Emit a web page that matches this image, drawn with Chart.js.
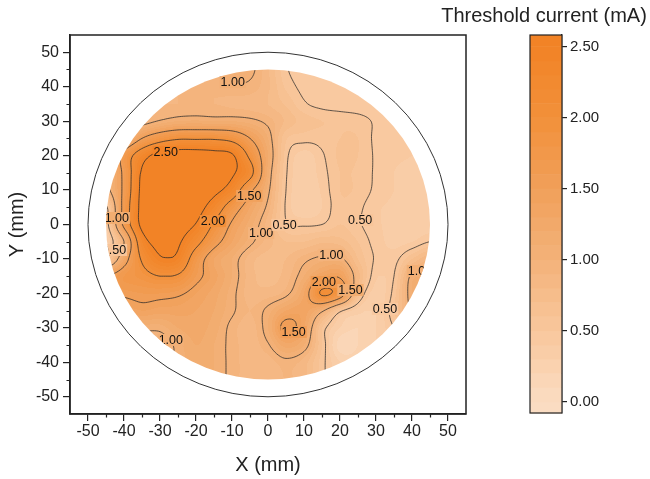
<!DOCTYPE html>
<html>
<head>
<meta charset="utf-8">
<script src="https://cdn.jsdelivr.net/npm/chart.js@4.4.0/dist/chart.umd.min.js"></script>
<style>
  html, body { margin: 0; padding: 0; background: #fff; }
  #wrap { position: relative; width: 650px; height: 479px; overflow: hidden; }
  #map { position: absolute; left: 0; top: 0; }
  #bar { position: absolute; left: 430px; top: 0; }
</style>
</head>
<body>
<div id="wrap">
  <canvas id="map" width="650" height="479"></canvas>
  <canvas id="bar" width="220" height="479"></canvas>
</div>
<script>
// Measurement grid (mm): columns along X, rows along Y (top row first)
const gridX = [-45, -40, -35, -30, -25, -20, -15, -10, -5, 0, 5, 10, 15, 20, 25, 30, 35, 40, 45];
const gridY = [45, 40, 35, 30, 25, 20, 15, 10, 5, 0, -5, -10, -15, -20, -25, -30, -35, -40, -45];

// Threshold current (mA) at each grid node, one row per gridY value
const thresholdCurrent = [
  [0.88,0.88,0.88,0.88,0.88,0.92,0.98,1.10,1.05,0.82,0.52,0.45,0.42,0.40,0.40,0.40,0.40,0.40,0.40],
  [0.86,0.86,0.87,0.88,0.90,0.92,0.95,0.97,0.96,0.82,0.58,0.46,0.43,0.42,0.40,0.40,0.40,0.40,0.40],
  [0.85,0.86,0.88,0.90,0.90,0.90,0.90,0.88,0.86,0.80,0.68,0.52,0.46,0.44,0.43,0.42,0.40,0.40,0.40],
  [0.80,0.85,0.90,1.02,1.10,1.12,1.10,1.10,1.05,0.95,0.78,0.65,0.60,0.58,0.55,0.48,0.42,0.40,0.40],
  [0.80,1.00,1.50,1.80,1.95,1.95,1.95,1.85,1.50,1.10,0.62,0.55,0.55,0.60,0.60,0.47,0.42,0.40,0.40],
  [0.80,1.65,2.30,2.65,2.70,2.70,2.65,2.55,1.90,1.20,0.55,0.35,0.48,0.62,0.60,0.48,0.42,0.40,0.40],
  [0.95,1.60,2.55,2.70,2.70,2.70,2.70,2.55,2.15,1.15,0.52,0.33,0.45,0.60,0.58,0.48,0.40,0.38,0.38],
  [0.90,1.60,2.60,2.70,2.70,2.70,2.60,2.30,1.60,1.05,0.50,0.30,0.42,0.60,0.58,0.47,0.40,0.37,0.37],
  [0.45,1.65,2.62,2.70,2.70,2.65,2.30,1.75,1.30,0.95,0.48,0.30,0.40,0.58,0.53,0.42,0.38,0.35,0.35],
  [0.40,1.60,2.60,2.70,2.65,2.48,1.95,1.45,1.15,0.85,0.52,0.48,0.50,0.60,0.52,0.42,0.37,0.35,0.35],
  [0.30,1.00,2.30,2.60,2.55,2.15,1.65,1.30,1.05,0.85,0.70,0.70,0.78,0.75,0.60,0.45,0.37,0.40,0.50],
  [0.50,1.30,2.05,2.45,2.40,1.75,1.30,1.10,0.85,0.75,0.80,0.95,1.05,1.05,0.70,0.48,0.45,0.70,0.90],
  [1.50,1.70,1.85,2.00,1.95,1.60,1.35,1.10,0.85,0.75,0.85,1.10,1.40,1.45,0.85,0.42,0.50,1.05,1.10],
  [1.50,1.55,1.60,1.60,1.55,1.40,1.25,1.05,0.85,0.85,0.95,1.30,2.05,1.75,0.70,0.35,0.55,1.10,1.10],
  [1.20,1.30,1.40,1.35,1.35,1.30,1.20,1.03,0.90,1.05,1.30,1.35,1.05,0.55,0.35,0.30,0.60,1.00,1.00],
  [1.00,1.05,1.05,1.05,1.20,1.25,1.15,0.95,0.85,1.10,1.60,1.30,0.60,0.30,0.20,0.30,0.50,0.70,0.70],
  [0.95,0.95,0.90,0.88,1.05,1.20,1.10,0.95,0.85,0.98,1.25,1.10,0.60,0.15,0.20,0.30,0.40,0.40,0.40],
  [0.95,0.95,0.90,0.90,1.05,1.15,1.10,0.95,0.85,0.85,0.95,0.85,0.55,0.30,0.25,0.30,0.40,0.40,0.40],
  [0.95,0.95,0.90,0.90,1.05,1.15,1.10,0.95,0.85,0.85,0.90,0.85,0.55,0.30,0.25,0.30,0.40,0.40,0.40]
];

// Contour line levels (mA)
const contourLevels = [0.5, 1.0, 1.5, 2.0, 2.5];

// Where each contour value is written (mm)
const contourLabels = [
  { x: -9.8,  y: 41.3,  level: 1.0 },
  { x: -28.4, y: 21.0,  level: 2.5 },
  { x: -5.2,  y: 8.3,   level: 1.5 },
  { x: -15.3, y: 1.0,   level: 2.0 },
  { x: -1.9,  y: -2.5,  level: 1.0 },
  { x: 4.6,   y: -0.1,  level: 0.5 },
  { x: 25.6,  y: 1.3,   level: 0.5 },
  { x: -42.0, y: 1.9,   level: 1.0 },
  { x: -42.8, y: -7.4,  level: 0.5 },
  { x: 17.6,  y: -8.8,  level: 1.0 },
  { x: 15.5,  y: -16.7, level: 2.0 },
  { x: 22.9,  y: -19.0, level: 1.5 },
  { x: 7.1,   y: -31.2, level: 1.5 },
  { x: 32.5,  y: -24.5, level: 0.5 },
  { x: 42.2,  y: -13.5, level: 1.0 },
  { x: -27.0, y: -33.5, level: 1.0 }
];

// Axis ticks (mm)
const xTicks = [-50, -40, -30, -20, -10, 0, 10, 20, 30, 40, 50];
const yTicks = [-50, -40, -30, -20, -10, 0, 10, 20, 30, 40, 50];
const minorTicks = [-45, -35, -25, -15, -5, 5, 15, 25, 35, 45];

// Colour scale
const colorBarTitle = 'Threshold current (mA)';
const colorBarTicks = [0, 0.5, 1.0, 1.5, 2.0, 2.5];
const bandEdges = [-0.1, 0, 0.1, 0.2, 0.3, 0.4, 0.5, 0.6, 0.7, 0.8, 0.9, 1.0, 1.1, 1.2, 1.3,
                   1.4, 1.5, 1.6, 1.7, 1.8, 1.9, 2.0, 2.1, 2.2, 2.3, 2.4, 2.5, 2.6];
const colorStopValues = [0, 0.5, 1.0, 1.5, 2.0, 2.5];
const colorStopRGB = [[250, 220, 194], [249, 199, 156], [243, 178, 121], [241, 160, 90], [242, 144, 58], [242, 131, 38]];

const sampleRadius = 45;   // measured disk (mm)
const outlineRadius = 50;  // outer outline (mm)

const INK = '#222';
const FONT = "'Liberation Sans', Arial, Helvetica, sans-serif";
Chart.defaults.font.family = FONT;
Chart.defaults.color = INK;

// ---------- field helpers ----------
function catmull(p0, p1, p2, p3, t) {
  return p1 + 0.5 * t * (p2 - p0 + t * (2 * p0 - 5 * p1 + 4 * p2 - p3 + t * (3 * (p1 - p2) + p3 - p0)));
}
function nodeValue(i, j) {
  const r = Math.max(0, Math.min(gridY.length - 1, j));
  const c = Math.max(0, Math.min(gridX.length - 1, i));
  return thresholdCurrent[r][c];
}
function fieldAt(x, y) {
  const gx = (x - gridX[0]) / (gridX[1] - gridX[0]);
  const gy = (y - gridY[0]) / (gridY[1] - gridY[0]);
  const i = Math.max(0, Math.min(gridX.length - 2, Math.floor(gx)));
  const j = Math.max(0, Math.min(gridY.length - 2, Math.floor(gy)));
  const t = Math.max(0, Math.min(1, gx - i));
  const u = Math.max(0, Math.min(1, gy - j));
  const rows = [];
  for (let b = j - 1; b <= j + 2; b++) {
    rows.push(catmull(nodeValue(i - 1, b), nodeValue(i, b), nodeValue(i + 1, b), nodeValue(i + 2, b), t));
  }
  const v = catmull(rows[0], rows[1], rows[2], rows[3], u);
  const a = nodeValue(i, j), b2 = nodeValue(i + 1, j), c = nodeValue(i, j + 1), d = nodeValue(i + 1, j + 1);
  return Math.max(Math.min(a, b2, c, d), Math.min(Math.max(a, b2, c, d), v));
}
function rampColor(v) {
  const n = colorStopValues.length;
  if (v <= colorStopValues[0]) return colorStopRGB[0];
  if (v >= colorStopValues[n - 1]) return colorStopRGB[n - 1];
  for (let k = 0; k < n - 1; k++) {
    if (v <= colorStopValues[k + 1]) {
      const f = (v - colorStopValues[k]) / (colorStopValues[k + 1] - colorStopValues[k]);
      return colorStopRGB[k].map((c, q) => Math.round(c + f * (colorStopRGB[k + 1][q] - c)));
    }
  }
}
function bandIndex(v) {
  for (let k = 0; k < bandEdges.length - 1; k++) if (v < bandEdges[k + 1]) return k;
  return bandEdges.length - 2;
}
function bandRGB(k) {
  return rampColor((bandEdges[k] + bandEdges[k + 1]) / 2);
}
const rgbCss = c => `rgb(${c[0]},${c[1]},${c[2]})`;

// ---------- filled contour map ----------
const contourMapPlugin = {
  id: 'contourMap',
  beforeDatasetsDraw(chart) {
    const { ctx, chartArea: area, scales: { x: sx, y: sy } } = chart;
    const w = Math.round(area.right - area.left), h = Math.round(area.bottom - area.top);
    const off = document.createElement('canvas');
    off.width = w; off.height = h;
    const octx = off.getContext('2d');
    const img = octx.createImageData(w, h);
    const lim = (sampleRadius + 1) * (sampleRadius + 1);
    for (let py = 0; py < h; py++) {
      const vy = sy.getValueForPixel(area.top + py + 0.5);
      for (let px = 0; px < w; px++) {
        const vx = sx.getValueForPixel(area.left + px + 0.5);
        if (vx * vx + vy * vy > lim) continue;
        const c = bandRGB(bandIndex(fieldAt(vx, vy)));
        const o = (py * w + px) * 4;
        img.data[o] = c[0]; img.data[o + 1] = c[1]; img.data[o + 2] = c[2]; img.data[o + 3] = 255;
      }
    }
    octx.putImageData(img, 0, 0);

    const cx = sx.getPixelForValue(0), cy = sy.getPixelForValue(0);
    const rx = sx.getPixelForValue(sampleRadius) - cx;
    const ry = cy - sy.getPixelForValue(sampleRadius);

    ctx.save();
    ctx.beginPath();
    ctx.ellipse(cx, cy, rx, ry, 0, 0, Math.PI * 2);
    ctx.clip();
    ctx.drawImage(off, area.left, area.top);

    // contour lines by marching squares
    const step = 0.5, lo = -sampleRadius - 1;
    const N = Math.round((2 * sampleRadius + 2) / step) + 1;
    const F = new Float32Array(N * N);
    for (let r = 0; r < N; r++) for (let q = 0; q < N; q++) F[r * N + q] = fieldAt(lo + q * step, lo + r * step);
    const PX = v => sx.getPixelForValue(v), PY = v => sy.getPixelForValue(v);
    ctx.strokeStyle = '#2a2a2a';
    ctx.lineWidth = 0.75;
    ctx.lineJoin = 'round';
    for (const L of contourLevels) {
      ctx.beginPath();
      for (let r = 0; r < N - 1; r++) {
        const y0 = lo + r * step, y1 = y0 + step;
        for (let q = 0; q < N - 1; q++) {
          const x0 = lo + q * step, x1 = x0 + step;
          const v0 = F[r * N + q], v1 = F[r * N + q + 1], v2 = F[(r + 1) * N + q + 1], v3 = F[(r + 1) * N + q];
          const idx = (v0 > L ? 1 : 0) | (v1 > L ? 2 : 0) | (v2 > L ? 4 : 0) | (v3 > L ? 8 : 0);
          if (idx === 0 || idx === 15) continue;
          const E = [
            () => [x0 + (L - v0) / (v1 - v0) * step, y0],
            () => [x1, y0 + (L - v1) / (v2 - v1) * step],
            () => [x0 + (L - v3) / (v2 - v3) * step, y1],
            () => [x0, y0 + (L - v0) / (v3 - v0) * step]
          ];
          let segs;
          const centre = (v0 + v1 + v2 + v3) / 4 > L;
          switch (idx) {
            case 1: case 14: segs = [[3, 0]]; break;
            case 2: case 13: segs = [[0, 1]]; break;
            case 3: case 12: segs = [[3, 1]]; break;
            case 4: case 11: segs = [[1, 2]]; break;
            case 6: case 9: segs = [[0, 2]]; break;
            case 7: case 8: segs = [[3, 2]]; break;
            case 5: segs = centre ? [[0, 1], [2, 3]] : [[3, 0], [1, 2]]; break;
            case 10: segs = centre ? [[3, 0], [1, 2]] : [[0, 1], [2, 3]]; break;
          }
          for (const [a, b] of segs) {
            const p = E[a](), s = E[b]();
            ctx.moveTo(PX(p[0]), PY(p[1]));
            ctx.lineTo(PX(s[0]), PY(s[1]));
          }
        }
      }
      ctx.stroke();
    }

    // contour value labels
    ctx.font = `12.5px ${FONT}`;
    ctx.textAlign = 'center';
    ctx.textBaseline = 'middle';
    for (const lab of contourLabels) {
      const text = lab.level.toFixed(2);
      const px = PX(lab.x), py = PY(lab.y);
      const tw = ctx.measureText(text).width;
      ctx.fillStyle = rgbCss(bandRGB(bandIndex(fieldAt(lab.x, lab.y))));
      ctx.fillRect(px - tw / 2 - 1, py - 6, tw + 2, 12);
      ctx.fillStyle = '#111';
      ctx.fillText(text, px, py + 0.5);
    }
    ctx.restore();

    // outer outline
    ctx.save();
    ctx.beginPath();
    ctx.ellipse(cx, cy, sx.getPixelForValue(outlineRadius) - cx, cy - sy.getPixelForValue(outlineRadius), 0, 0, Math.PI * 2);
    ctx.strokeStyle = '#333';
    ctx.lineWidth = 1;
    ctx.stroke();
    ctx.restore();
  },
  afterDraw(chart) {
    const { ctx, chartArea: area, scales: { x: sx, y: sy } } = chart;
    ctx.save();
    ctx.strokeStyle = INK;
    ctx.lineWidth = 1.5;
    ctx.strokeRect(area.left, area.top, area.right - area.left, area.bottom - area.top);
    ctx.lineWidth = 1.2;
    ctx.beginPath();
    for (const v of minorTicks) {
      const px = Math.round(sx.getPixelForValue(v)) + 0.5;
      ctx.moveTo(px, area.bottom); ctx.lineTo(px, area.bottom + 3.5);
      const py = Math.round(sy.getPixelForValue(v)) + 0.5;
      ctx.moveTo(area.left, py); ctx.lineTo(area.left - 3.5, py);
    }
    ctx.stroke();
    ctx.restore();
  }
};

const gridPoints = [];
gridY.forEach((yv, r) => gridX.forEach((xv, c) => gridPoints.push({ x: xv, y: yv, v: thresholdCurrent[r][c] })));

new Chart(document.getElementById('map'), {
  type: 'scatter',
  data: { datasets: [{ data: gridPoints, pointRadius: 0, pointHoverRadius: 0 }] },
  options: {
    responsive: false,
    animation: false,
    events: [],
    layout: { padding: { left: 0, top: 35, right: 184, bottom: 0 } },
    plugins: { legend: { display: false }, tooltip: { enabled: false } },
    scales: {
      x: {
        type: 'linear', min: -55, max: 55,
        afterBuildTicks: s => { s.ticks = xTicks.map(v => ({ value: v })); },
        afterFit: s => { s.height = 65; },
        grid: { drawOnChartArea: false, tickLength: 7, color: INK, lineWidth: 1.2 },
        border: { color: INK, width: 1.5 },
        ticks: { font: { size: 16 }, color: INK, padding: 1, maxRotation: 0, autoSkip: false },
        title: { display: true, text: 'X (mm)', font: { size: 20 }, color: INK, padding: { top: 0, bottom: 2 } }
      },
      y: {
        type: 'linear', min: -55, max: 55,
        afterBuildTicks: s => { s.ticks = yTicks.map(v => ({ value: v })); },
        afterFit: s => { s.width = 70; },
        grid: { drawOnChartArea: false, tickLength: 7, color: INK, lineWidth: 1.2 },
        border: { color: INK, width: 1.5 },
        ticks: { font: { size: 16 }, color: INK, padding: 4, autoSkip: false },
        title: { display: true, text: 'Y (mm)', font: { size: 20 }, color: INK, padding: { top: 5, bottom: 0 } }
      }
    }
  },
  plugins: [contourMapPlugin]
});

// ---------- colour bar ----------
const colorBarPlugin = {
  id: 'colorBar',
  beforeDatasetsDraw(chart) {
    const { ctx, chartArea: area, scales: { y: sy } } = chart;
    ctx.save();
    for (let k = 0; k < bandEdges.length - 1; k++) {
      const lo = Math.max(bandEdges[k], sy.min), hi = Math.min(bandEdges[k + 1], sy.max);
      if (hi <= lo) continue;
      const top = sy.getPixelForValue(hi), bot = sy.getPixelForValue(lo);
      ctx.fillStyle = rgbCss(bandRGB(k));
      ctx.fillRect(area.left, top, area.right - area.left, bot - top + 0.5);
    }
    ctx.strokeStyle = INK;
    ctx.lineWidth = 1.2;
    ctx.strokeRect(area.left, area.top, area.right - area.left, area.bottom - area.top);
    ctx.restore();
  },
  afterDraw(chart) {
    const { ctx, chartArea: area } = chart;
    ctx.save();
    ctx.font = `20px ${FONT}`;
    ctx.fillStyle = INK;
    ctx.textAlign = 'center';
    ctx.textBaseline = 'alphabetic';
    ctx.fillText(colorBarTitle, (area.left + area.right) / 2 - 2, 22);
    ctx.restore();
  }
};

new Chart(document.getElementById('bar'), {
  type: 'scatter',
  data: { datasets: [{ data: [], pointRadius: 0 }] },
  options: {
    responsive: false,
    animation: false,
    events: [],
    layout: { padding: { left: 100, top: 35, right: 0, bottom: 66 } },
    plugins: { legend: { display: false }, tooltip: { enabled: false } },
    scales: {
      x: { display: false, min: 0, max: 1 },
      y: {
        position: 'right', min: -0.08, max: 2.58,
        afterBuildTicks: s => { s.ticks = colorBarTicks.map(v => ({ value: v })); },
        afterFit: s => { s.width = 88; },
        grid: { drawOnChartArea: false, tickLength: 5, color: INK, lineWidth: 1.2 },
        border: { color: INK, width: 1.2 },
        ticks: { font: { size: 15 }, color: INK, padding: 3, callback: v => Number(v).toFixed(2) }
      }
    }
  },
  plugins: [colorBarPlugin]
});
</script>
</body>
</html>
